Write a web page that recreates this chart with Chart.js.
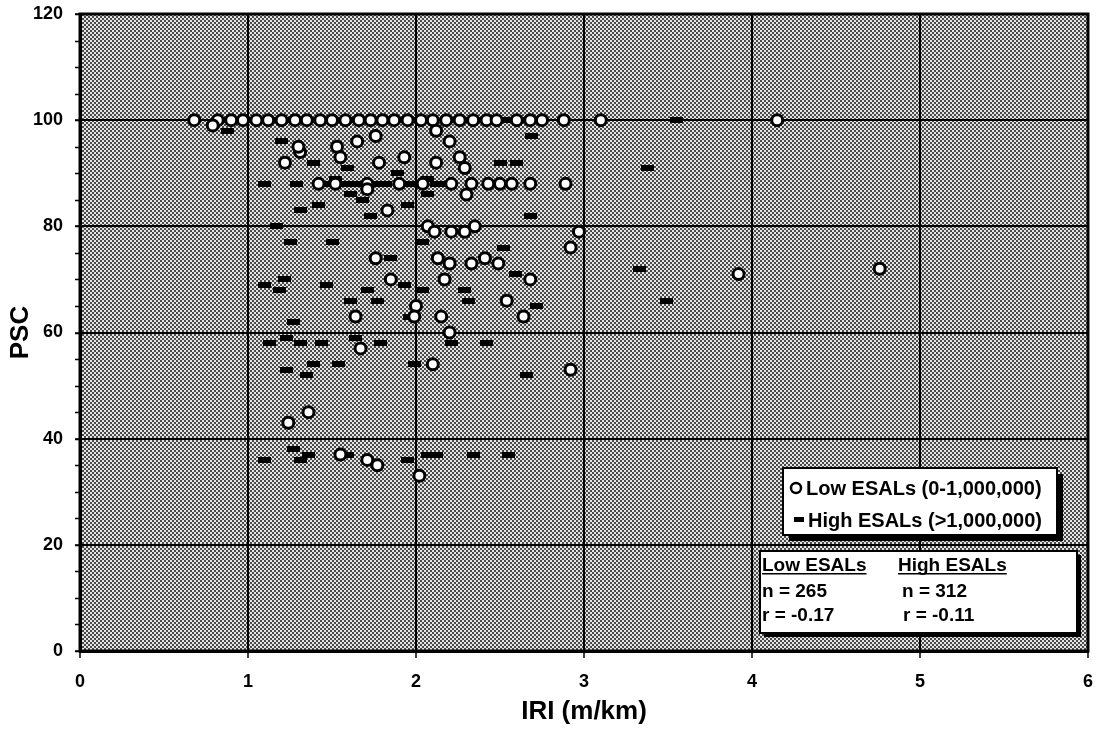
<!DOCTYPE html>
<html>
<head>
<meta charset="utf-8">
<title>PSC vs IRI</title>
<script src="https://cdn.jsdelivr.net/npm/chart.js@4.4.0/dist/chart.umd.min.js"></script>
<style>
  html, body { margin: 0; padding: 0; background: #fff; }
  #wrap { width: 1102px; height: 732px; }
</style>
</head>
<body>
<div id="wrap"><canvas id="pscChart" width="1102" height="732"></canvas></div>
<script>
// Low ESALs (0-1,000,000)
const lowIRI = [
  0.68, 0.82, 0.90, 0.97, 1.05, 1.12, 1.20, 1.28, 1.35, 1.43, 1.50, 1.58, 1.66, 1.73, 1.80,
  1.87, 1.95, 2.03, 2.10, 2.18, 2.26, 2.34, 2.42, 2.48, 2.60, 2.68, 2.75, 2.88, 3.10, 4.15,
  0.79, 1.31, 1.30, 1.22, 1.53, 1.55, 1.65, 1.76, 1.78, 1.93, 2.12, 2.20, 2.26, 2.12, 2.29,
  1.42, 1.52, 1.71, 1.90, 2.04, 2.21, 2.33, 2.43, 2.50, 2.57, 2.68, 2.89,
  1.71, 2.30, 1.83, 2.07, 2.11, 2.21, 2.29, 2.35, 2.97, 2.92,
  1.76, 2.13, 2.20, 2.33, 2.41, 2.49,
  1.85, 2.17, 2.68, 3.92, 4.76,
  2.54, 2.00, 1.64, 1.99, 2.15, 2.64, 2.20, 1.67, 2.10, 2.92,
  1.36, 1.24, 1.55, 1.71, 1.77, 2.02
];
const lowPSC = [
  100, 100, 100, 100, 100, 100, 100, 100, 100, 100, 100, 100, 100, 100, 100,
  100, 100, 100, 100, 100, 100, 100, 100, 100, 100, 100, 100, 100, 100, 100,
  99, 94, 95, 92, 95, 93, 96, 97, 92, 93, 98, 96, 93, 92, 91,
  88, 88, 88, 88, 88, 88, 88, 88, 88, 88, 88, 88,
  87, 86, 83, 80, 79, 79, 79, 80, 79, 76,
  74, 74, 73, 73, 74, 73,
  70, 70, 70, 71, 72,
  66, 65, 63, 63, 63, 63, 60, 57, 54, 53,
  45, 43, 37, 36, 35, 33
];

// High ESALs (>1,000,000)
const highIRI = [
  0.85, 0.92, 1.00, 1.08, 1.15, 1.23, 1.30, 1.38, 1.46, 1.54, 1.62, 1.70, 1.78, 1.86,
  1.94, 2.02, 2.10, 2.18, 2.25, 2.33, 2.40, 2.50, 2.56, 2.64, 2.72, 3.10, 3.55,
  0.88, 2.69, 1.20, 1.39, 1.59, 1.89, 2.50, 2.60, 3.38, 1.52, 2.07,
  1.10, 1.29, 1.48, 1.56, 1.64, 1.75, 1.82, 1.90, 1.97, 2.04, 2.12, 2.18,
  1.61, 1.68, 2.07, 1.31, 1.42, 1.73, 1.95, 2.68, 1.17,
  1.25, 1.50, 2.04, 2.52, 1.85,
  1.10, 1.22, 1.19, 1.47, 1.71, 1.93, 2.04, 2.29, 2.59, 3.33,
  1.61, 1.77, 2.31, 2.72, 3.49, 1.96, 1.27,
  1.13, 1.23, 1.31, 1.44, 1.64, 1.79, 2.21, 2.42,
  1.23, 1.39, 1.54, 1.99, 1.35, 2.66,
  1.27, 1.36, 1.31, 1.10, 1.59, 1.95, 2.07, 2.12, 2.34, 2.55
];
const highPSC = [
  100, 100, 100, 100, 100, 100, 100, 100, 100, 100, 100, 100, 100, 100,
  100, 100, 100, 100, 100, 100, 100, 100, 100, 100, 100, 100, 100,
  98, 97, 96, 92, 91, 90, 92, 92, 91, 89, 89,
  88, 88, 88, 88, 88, 88, 88, 88, 88, 88, 88, 88,
  86, 85, 86, 83, 84, 82, 84, 82, 80,
  77, 77, 77, 76, 74,
  69, 70, 68, 69, 68, 69, 68, 68, 71, 72,
  66, 66, 66, 65, 66, 63, 62,
  58, 59, 58, 58, 59, 58, 58, 58,
  53, 54, 54, 54, 52, 52,
  38, 37, 36, 36, 37, 36, 37, 37, 37, 37
];

const xTicks = [0, 1, 2, 3, 4, 5, 6];
const yTicks = [0, 20, 40, 60, 80, 100, 120];

const legendLabels = ["Low ESALs (0-1,000,000)", "High ESALs (>1,000,000)"];
const statHeaders = ["Low ESALs", "High ESALs"];
const statN = ["n = 265", "n = 312"];
const statR = ["r = -0.17", "r = -0.11"];

const toPoints = (xs, ys) => xs.map((x, i) => ({ x: x, y: ys[i] }));

// dithered grey like the printed original
function makePattern(ctx) {
  const c = document.createElement("canvas");
  c.width = 4;
  c.height = 4;
  const g = c.getContext("2d");
  g.fillStyle = "#e4e4e4";
  g.fillRect(0, 0, 4, 4);
  g.fillStyle = "#4a4a4a";
  g.fillRect(0, 0, 2, 2);
  g.fillRect(2, 2, 2, 2);
  return ctx.createPattern(c, "repeat");
}

// the short black bar used for High ESALs
function makeBar() {
  const c = document.createElement("canvas");
  c.width = 13;
  c.height = 6;
  const g = c.getContext("2d");
  g.fillStyle = "#000";
  g.fillRect(0, 0, 13, 6);
  return c;
}
const barMark = makeBar();

const FONT = "'Liberation Sans', Arial, sans-serif";

const backdrop = {
  id: "backdrop",
  beforeDraw(chart) {
    const { ctx, chartArea: a } = chart;
    ctx.save();
    ctx.fillStyle = "#fff";
    ctx.fillRect(0, 0, chart.width, chart.height);
    ctx.fillStyle = makePattern(ctx);
    ctx.fillRect(a.left, a.top, a.right - a.left, a.bottom - a.top);
    ctx.restore();
  }
};

const frameAndLegend = {
  id: "frameAndLegend",
  afterDraw(chart) {
    const { ctx, chartArea: a } = chart;
    const y = chart.scales.y;
    ctx.save();

    // plot frame
    ctx.strokeStyle = "#000";
    ctx.lineWidth = 3;
    ctx.strokeRect(a.left, a.top, a.right - a.left, a.bottom - a.top);

    // minor ticks on the PSC axis every 5
    ctx.lineWidth = 1.5;
    ctx.beginPath();
    for (let v = 0; v <= 120; v += 5) {
      const py = Math.round(y.getPixelForValue(v)) + 0.5;
      ctx.moveTo(a.left - 5, py);
      ctx.lineTo(a.left, py);
    }
    ctx.stroke();

    // legend box
    ctx.fillStyle = "#000";
    ctx.fillRect(789, 474, 274, 67);
    ctx.fillStyle = "#fff";
    ctx.fillRect(783, 468, 274, 67);
    ctx.lineWidth = 2;
    ctx.strokeRect(783, 468, 274, 67);

    ctx.beginPath();
    ctx.arc(796, 488, 5, 0, Math.PI * 2);
    ctx.fillStyle = "#fff";
    ctx.fill();
    ctx.lineWidth = 2.5;
    ctx.stroke();
    ctx.drawImage(barMark, 794, 517, 10, 5);

    ctx.fillStyle = "#000";
    ctx.font = "bold 20px " + FONT;
    ctx.textBaseline = "alphabetic";
    ctx.textAlign = "left";
    ctx.fillText(legendLabels[0], 806, 495);
    ctx.fillText(legendLabels[1], 808, 527);

    // statistics box
    ctx.fillStyle = "#000";
    ctx.fillRect(764, 555, 317, 82);
    ctx.fillStyle = "#fff";
    ctx.fillRect(760, 551, 317, 82);
    ctx.lineWidth = 2;
    ctx.strokeRect(760, 551, 317, 82);

    ctx.fillStyle = "#000";
    ctx.font = "bold 19px " + FONT;
    const colX = [762, 898];
    statHeaders.forEach((t, i) => {
      ctx.fillText(t, colX[i], 571);
      const w = ctx.measureText(t).width;
      ctx.fillRect(colX[i], 573, w, 1.5);
    });
    ctx.fillText(statN[0], 762, 597);
    ctx.fillText(statN[1], 902, 597);
    ctx.fillText(statR[0], 762, 621);
    ctx.fillText(statR[1], 903, 621);

    ctx.restore();
  }
};

new Chart(document.getElementById("pscChart").getContext("2d"), {
  type: "scatter",
  data: {
    datasets: [
      {
        label: legendLabels[0],
        data: toPoints(lowIRI, lowPSC),
        pointStyle: "circle",
        pointRadius: 5.5,
        pointBorderWidth: 3,
        pointBackgroundColor: "#fff",
        pointBorderColor: "#000",
        order: 0
      },
      {
        label: legendLabels[1],
        data: toPoints(highIRI, highPSC),
        pointStyle: barMark,
        pointRadius: 6,
        order: 1
      }
    ]
  },
  options: {
    responsive: false,
    animation: false,
    devicePixelRatio: 1,
    layout: { padding: { top: 14, right: 14, left: 0, bottom: 0 } },
    plugins: {
      legend: { display: false },
      tooltip: { enabled: false }
    },
    scales: {
      x: {
        type: "linear",
        min: xTicks[0],
        max: xTicks[xTicks.length - 1],
        afterBuildTicks: s => { s.ticks = xTicks.map(v => ({ value: v })); },
        afterFit: s => { s.height = 81; s.paddingLeft = 0; s.paddingRight = 0; },
        border: { display: true, color: "#000", width: 3 },
        grid: { color: "#000", lineWidth: 2, tickLength: 7, tickColor: "#000", tickWidth: 1.5 },
        ticks: { color: "#000", padding: 13, font: { family: FONT, size: 18, weight: "bold" } },
        title: {
          display: true,
          text: "IRI (m/km)",
          color: "#000",
          padding: { top: 4, bottom: 5 },
          font: { family: FONT, size: 26, weight: "bold" }
        }
      },
      y: {
        type: "linear",
        min: yTicks[0],
        max: yTicks[yTicks.length - 1],
        afterBuildTicks: s => { s.ticks = yTicks.map(v => ({ value: v })); },
        // keep the label overhang from pushing the plot down
        afterFit: s => { s.width = 80; s.paddingTop = 0; s.paddingBottom = 0; },
        border: { display: true, color: "#000", width: 3 },
        grid: { color: "#000", lineWidth: 2, tickLength: 5, tickColor: "#000", tickWidth: 1.5 },
        ticks: { color: "#000", padding: 12, font: { family: FONT, size: 18, weight: "bold" } },
        title: {
          display: true,
          text: "PSC",
          color: "#000",
          padding: { top: 5, bottom: 0 },
          font: { family: FONT, size: 26, weight: "bold" }
        }
      }
    }
  },
  plugins: [backdrop, frameAndLegend]
});
</script>
</body>
</html>
